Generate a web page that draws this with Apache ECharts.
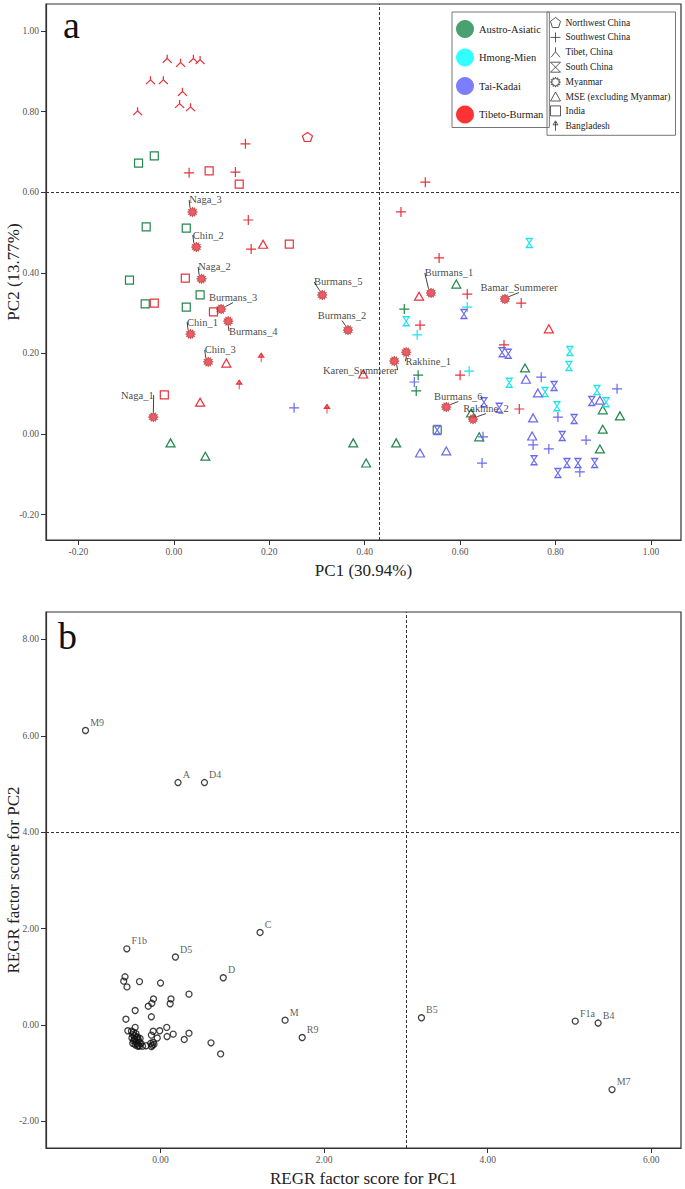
<!DOCTYPE html>
<html><head><meta charset="utf-8">
<script src="https://cdn.jsdelivr.net/npm/echarts@6.0.0/dist/echarts.min.js"></script>
<style>html,body{margin:0;padding:0;background:#fff}#chart{width:685px;height:1189px}</style>
</head><body><div id="chart"></div>
<script>
// ---------------- Panel a data: [PC1, PC2] ----------------
const familyNames = ['Austro-Asiatic', 'Hmong-Mien', 'Tai-Kadai', 'Tibeto-Burman'];
const regionNames = ['Northwest China', 'Southwest China', 'Tibet, China', 'South China', 'Myanmar', 'MSE (excluding Myanmar)', 'India', 'Bangladesh'];
const xTicksA = [-0.2, 0, 0.2, 0.4, 0.6, 0.8, 1.0];
const yTicksA = [-0.2, 0, 0.2, 0.4, 0.6, 0.8, 1.0];
const cutA = { pc1: 0.433, pc2: 0.60 };

const tbTibet = [[-0.014,0.931],[0.014,0.921],[0.041,0.931],[0.055,0.928],[-0.049,0.878],[-0.022,0.878],[0.018,0.849],[0.012,0.819],[0.035,0.811],[-0.076,0.801]];
const tbNorthwest = [[0.280,0.737]];
const tbSouthwest = [[0.150,0.720],[0.032,0.648],[0.129,0.650],[0.156,0.531],[0.162,0.459],[0.527,0.625],[0.476,0.551],[0.556,0.437],[0.615,0.347],[0.728,0.325],[0.516,0.270],[0.600,0.146],[0.692,0.221],[0.724,0.062]];
const tbIndia = [[0.074,0.653],[0.137,0.620],[0.242,0.471],[0.024,0.387],[-0.041,0.325],[0.083,0.303],[-0.020,0.097]];
const tbMSE = [[0.187,0.471],[0.110,0.176],[0.055,0.079],[0.397,0.149],[0.514,0.342],[0.786,0.261]];
const tbBangladesh = [[0.183,0.189],[0.137,0.122],[0.321,0.062]];
const myNames = ['Naga_3','Chin_2','Naga_2','Burmans_3','Burmans_4','Chin_1','Chin_3','Naga_1','Burmans_5','Burmans_2','Karen_Summerer','Rakhine_1','Burmans_1','Bamar_Summerer','Burmans_6','Rakhine_2'];
const myPC1 = [0.039,0.047,0.058,0.099,0.114,0.035,0.072,-0.043,0.311,0.365,0.462,0.487,0.539,0.694,0.571,0.627];
const myPC2 = [0.551,0.464,0.385,0.310,0.280,0.248,0.179,0.042,0.345,0.258,0.181,0.203,0.350,0.335,0.067,0.037];

const aaIndia = [[-0.074,0.672],[-0.041,0.690],[-0.058,0.514],[0.026,0.511],[-0.093,0.382],[-0.060,0.323],[0.026,0.315],[0.055,0.345],[0.552,0.010]];
const aaMSE = [[-0.007,-0.022],[0.066,-0.055],[0.376,-0.022],[0.466,-0.022],[0.403,-0.072],[0.640,-0.007],[0.592,0.372],[0.736,0.164],[0.623,0.052],[0.899,0.060],[0.935,0.045],[0.899,0.012],[0.893,-0.037]];
const aaSouthwest = [[0.483,0.310],[0.512,0.146],[0.508,0.107]];

const hmSouthChina = [[0.745,0.474],[0.487,0.280],[0.830,0.206],[0.828,0.169],[0.703,0.127],[0.778,0.104],[0.887,0.109],[0.906,0.079],[0.803,0.069]];
const hmSouthwest = [[0.510,0.246],[0.615,0.315],[0.619,0.156]];

const tkSouthChina = [[0.608,0.298],[0.688,0.203],[0.701,0.199],[0.797,0.119],[0.876,0.082],[0.650,0.079],[0.682,0.065],[0.839,0.037],[0.814,-0.005],[0.552,0.010],[0.755,-0.065],[0.824,-0.072],[0.847,-0.072],[0.882,-0.072],[0.805,-0.097]];
const tkSouthwest = [[0.252,0.065],[0.504,0.129],[0.770,0.141],[0.929,0.112],[0.805,0.042],[0.864,-0.015],[0.753,-0.027],[0.786,-0.037],[0.648,-0.007],[0.646,-0.072],[0.851,-0.094]];
const tkMSE = [[0.738,0.136],[0.763,0.102],[0.893,0.084],[0.753,0.040],[0.751,-0.005],[0.516,-0.047],[0.571,-0.042]];

// ---------------- Panel b data ----------------
const xTicksB = [0, 2, 4, 6];
const yTicksB = [-2, 0, 2, 4, 6, 8];
const cutB = { pc1: 3.0, pc2: 4.0 };
const bNames = ['M9','A','D4','C','F1b','D5','D','M','R9','B5','F1a','B4','M7'];
const bPC1 = [-0.917,0.214,0.537,1.217,-0.412,0.182,0.767,1.523,1.732,3.19,5.07,5.35,5.52];
const bPC2 = [6.11,5.03,5.03,1.92,1.58,1.41,0.98,0.10,-0.26,0.15,0.08,0.04,-1.34];
const bOtherPC1 = [-0.434,-0.45,-0.41,-0.257,0.0,0.348,-0.086,0.128,-0.106,0.118,-0.15,-0.31,-0.112,-0.423,0.076,-0.31,-0.40,-0.355,-0.09,-0.01,0.348,-0.112,0.155,-0.04,0.08,0.29,0.617,0.735,-0.177,-0.257,
  -0.33,-0.30,-0.32,-0.28,-0.35,-0.31,-0.27,-0.33,-0.30,-0.26,-0.34,-0.29,-0.31,-0.27,-0.24,-0.32,-0.29,-0.25,-0.34,-0.28,-0.22,-0.12,-0.10,-0.08,-0.11,-0.09];
const bOtherPC2 = [1.00,0.91,0.79,0.90,0.87,0.64,0.54,0.54,0.45,0.44,0.39,0.30,0.17,0.12,-0.05,-0.05,-0.12,-0.13,-0.13,-0.12,-0.17,-0.21,-0.19,-0.27,-0.24,-0.30,-0.37,-0.60,-0.43,-0.44,
  -0.15,-0.18,-0.22,-0.25,-0.27,-0.29,-0.31,-0.33,-0.35,-0.36,-0.38,-0.39,-0.41,-0.42,-0.38,-0.30,-0.26,-0.28,-0.20,-0.44,-0.44,-0.38,-0.42,-0.40,-0.45,-0.36];

// ---------------- styles ----------------
const FONT = 'Liberation Serif';
const RED = '#e8333c', GREEN = '#23884f', CYAN = '#1fe3ec', BLUE = '#6a6aee';
const LEGEND_COLORS = ['#1a8a4a', '#00ffff', '#5c5cff', '#ff0000'];
function starPath() {
  let s = 'path://';
  const n = 12;
  for (let i = 0; i < n * 2; i++) {
    const r = i % 2 === 0 ? 5 : 3.1;
    const a = Math.PI * i / n;
    s += (i === 0 ? 'M' : 'L') + (5 + r * Math.sin(a)).toFixed(2) + ',' + (5 - r * Math.cos(a)).toFixed(2);
  }
  return s + 'Z';
}
const SYM = {
  pentagon: 'path://M5,0L10,3.8L8.1,10L1.9,10L0,3.8Z',
  plus: 'path://M0,5L10,5M5,0L5,10',
  tibet: 'path://M5,0L5,4.5L0.5,10M5,4.5L9.5,10',
  hourglass: 'path://M0,0L10,0L0,10L10,10Z',
  star: starPath(),
  triangle: 'path://M5,0L10,9L0,9Z',
  square: 'path://M0,0L10,0L10,10L0,10Z',
  arrow: 'path://M5,10L5,1M2.6,4L5,0L7.4,4Z'
};
const REGION_SYM = [SYM.pentagon, SYM.plus, SYM.tibet, SYM.hourglass, SYM.star, SYM.triangle, SYM.square, SYM.arrow];
const MY_LABEL_OFFSET = {
  Naga_3:[13,-12], Chin_2:[12,-12], Naga_2:[13,-12], Burmans_3:[12,-12], Burmans_4:[25,10], Chin_1:[12,-12],
  Chin_3:[12,-12], Naga_1:[-16,-22], Burmans_5:[16,-13], Burmans_2:[-6,-15], Karen_Summerer:[-34,9],
  Rakhine_1:[22,9], Burmans_1:[18,-20], Bamar_Summerer:[14,-12], Burmans_6:[12,-11], Rakhine_2:[13,-11]
};

function shapeSeries(name, data, color, sym, size) {
  return {
    type: 'scatter', name: name, xAxisIndex: 0, yAxisIndex: 0, data: data,
    symbol: sym, symbolSize: size, z: 3,
    itemStyle: { color: 'rgba(0,0,0,0)', borderColor: color, borderWidth: 1.2, opacity: 1 },
    emphasis: { disabled: true }
  };
}
function makeAxis(gridIndex, min, max, ticks, name, nameGap) {
  return {
    type: 'value', gridIndex: gridIndex, min: min, max: max,
    name: name, nameLocation: 'middle', nameGap: nameGap, nameMoveOverlap: false,
    nameTextStyle: { fontFamily: FONT, fontSize: 17, color: '#222' },
    axisLine: { show: true, onZero: false, lineStyle: { color: '#333', width: 1.2 } },
    axisTick: { show: true, inside: false, length: 5, customValues: ticks, lineStyle: { color: '#333' } },
    axisLabel: { customValues: ticks, color: '#555', fontSize: 9.5, fontFamily: FONT, margin: 7,
      formatter: v => Number(v).toFixed(2) },
    splitLine: { show: false }
  };
}
const dashLine = (v) => ({
  silent: true, symbol: ['none', 'none'], label: { show: false },
  lineStyle: { type: [3, 2], color: '#333', width: 1 },
  emphasis: { disabled: true },
  data: [{ xAxis: v.pc1 }, { yAxis: v.pc2 }]
});

const series = [
  Object.assign(shapeSeries('TB Tibet', tbTibet, RED, SYM.tibet, [9, 8]), { markLine: dashLine(cutA) }),
  shapeSeries('TB Northwest', tbNorthwest, RED, SYM.pentagon, [10, 9]),
  shapeSeries('TB Southwest', tbSouthwest, RED, SYM.plus, [10, 10]),
  shapeSeries('TB India', tbIndia, RED, SYM.square, [8, 8]),
  shapeSeries('TB MSE', tbMSE, RED, SYM.triangle, [9, 8]),
  shapeSeries('TB Bangladesh', tbBangladesh, RED, SYM.arrow, [5, 9]),
  shapeSeries('AA India', aaIndia, GREEN, SYM.square, [8, 8]),
  shapeSeries('AA MSE', aaMSE, GREEN, SYM.triangle, [9, 8]),
  shapeSeries('AA Southwest', aaSouthwest, GREEN, SYM.plus, [10, 10]),
  shapeSeries('HM South China', hmSouthChina, CYAN, SYM.hourglass, [6, 9]),
  shapeSeries('HM Southwest', hmSouthwest, CYAN, SYM.plus, [10, 10]),
  shapeSeries('TK South China', tkSouthChina, BLUE, SYM.hourglass, [6, 9]),
  shapeSeries('TK Southwest', tkSouthwest, BLUE, SYM.plus, [10, 10]),
  shapeSeries('TK MSE', tkMSE, BLUE, SYM.triangle, [9, 8]),
  {
    type: 'scatter', name: 'TB Myanmar', xAxisIndex: 0, yAxisIndex: 0, z: 4,
    data: myNames.map((n, i) => ({ name: n, value: [myPC1[i], myPC2[i]] })),
    symbol: SYM.star, symbolSize: 10,
    itemStyle: { color: RED, borderColor: '#a01818', borderWidth: 0.6 },
    label: { show: true, position: 'inside', formatter: '{b}', color: '#111', fontFamily: FONT, fontSize: 10.5, textBorderWidth: 0 },
    labelLayout: p => { const o = MY_LABEL_OFFSET[myNames[p.dataIndex]]; return { dx: o[0], dy: o[1] }; },
    labelLine: { show: true, lineStyle: { color: '#111', width: 0.8 } },
    emphasis: { disabled: true }
  },
  // legend-only entries
  ...familyNames.map((n, i) => ({ type: 'scatter', name: n, data: [], xAxisIndex: 0, yAxisIndex: 0,
      itemStyle: { color: LEGEND_COLORS[i] } })),
  ...regionNames.map((n, i) => ({ type: 'scatter', name: n, data: [], xAxisIndex: 0, yAxisIndex: 0,
      symbol: REGION_SYM[i], itemStyle: { color: 'rgba(0,0,0,0)', borderColor: '#333', borderWidth: 1 } })),
  // panel b
  {
    type: 'scatter', name: 'Labelled haplogroups', xAxisIndex: 1, yAxisIndex: 1, z: 3,
    data: bNames.map((n, i) => ({ name: n, value: [bPC1[i], bPC2[i]] })),
    symbol: 'circle', symbolSize: 6,
    itemStyle: { color: 'rgba(0,0,0,0)', borderColor: '#111', borderWidth: 1.3 },
    label: { show: true, position: 'right', distance: 1, offset: [0, -8], formatter: '{b}', color: '#333', fontFamily: FONT, fontSize: 10 },
    markLine: dashLine(cutB),
    emphasis: { disabled: true }
  },
  {
    type: 'scatter', name: 'Other haplogroups', xAxisIndex: 1, yAxisIndex: 1, z: 3,
    data: bOtherPC1.map((x, i) => [x, bOtherPC2[i]]),
    symbol: 'circle', symbolSize: 6,
    itemStyle: { color: 'rgba(0,0,0,0)', borderColor: '#111', borderWidth: 1.3 },
    emphasis: { disabled: true }
  }
];

const option = {
  animation: false,
  backgroundColor: '#fff',
  textStyle: { fontFamily: FONT },
  grid: [
    { left: 46, top: 4, width: 635, height: 536, outerBoundsMode: 'none', containLabel: false, show: true, borderColor: '#333', borderWidth: 1.2, backgroundColor: 'transparent' },
    { left: 46, top: 612, width: 635, height: 536, outerBoundsMode: 'none', containLabel: false, show: true, borderColor: '#333', borderWidth: 1.2, backgroundColor: 'transparent' }
  ],
  xAxis: [
    makeAxis(0, -0.268, 1.063, xTicksA, 'PC1 (30.94%)', 22),
    makeAxis(1, -1.40, 6.363, xTicksB, 'REGR factor score for PC1', 22)
  ],
  yAxis: [
    makeAxis(0, -0.263, 1.067, yTicksA, 'PC2 (13.77%)', 24),
    makeAxis(1, -2.552, 8.568, yTicksB, 'REGR factor score for PC2', 24)
  ],
  legend: [
    {
      data: familyNames.map(n => ({ name: n, icon: 'circle' })),
      orient: 'vertical', left: 452, top: 12, selectedMode: false,
      itemWidth: 18, itemHeight: 18, itemGap: 10.5,
      padding: [8, 6, 4, 4], borderColor: '#777', borderWidth: 1,
      textStyle: { fontFamily: FONT, fontSize: 10.5, color: '#222' }
    },
    {
      data: regionNames.map((n, i) => ({ name: n, icon: REGION_SYM[i] })),
      orient: 'vertical', left: 547, top: 12, selectedMode: false,
      itemWidth: 10, itemHeight: 10, itemGap: 3.9,
      padding: [5, 5, 4, 3], borderColor: '#777', borderWidth: 1,
      itemStyle: { color: 'rgba(0,0,0,0)', borderColor: '#333', borderWidth: 1 },
      textStyle: { fontFamily: FONT, fontSize: 9.5, color: '#222' }
    }
  ],
  graphic: [
    { type: 'text', left: 63, top: 6, z: 10, style: { text: 'a', font: '38px "Liberation Serif"', fill: '#111' } },
    { type: 'text', left: 58, top: 617, z: 10, style: { text: 'b', font: '38px "Liberation Serif"', fill: '#111' } }
  ],
  series: series
};

const chart = echarts.init(document.getElementById('chart'), null, { renderer: 'svg' });
chart.setOption(option);
</script>
</body></html>
